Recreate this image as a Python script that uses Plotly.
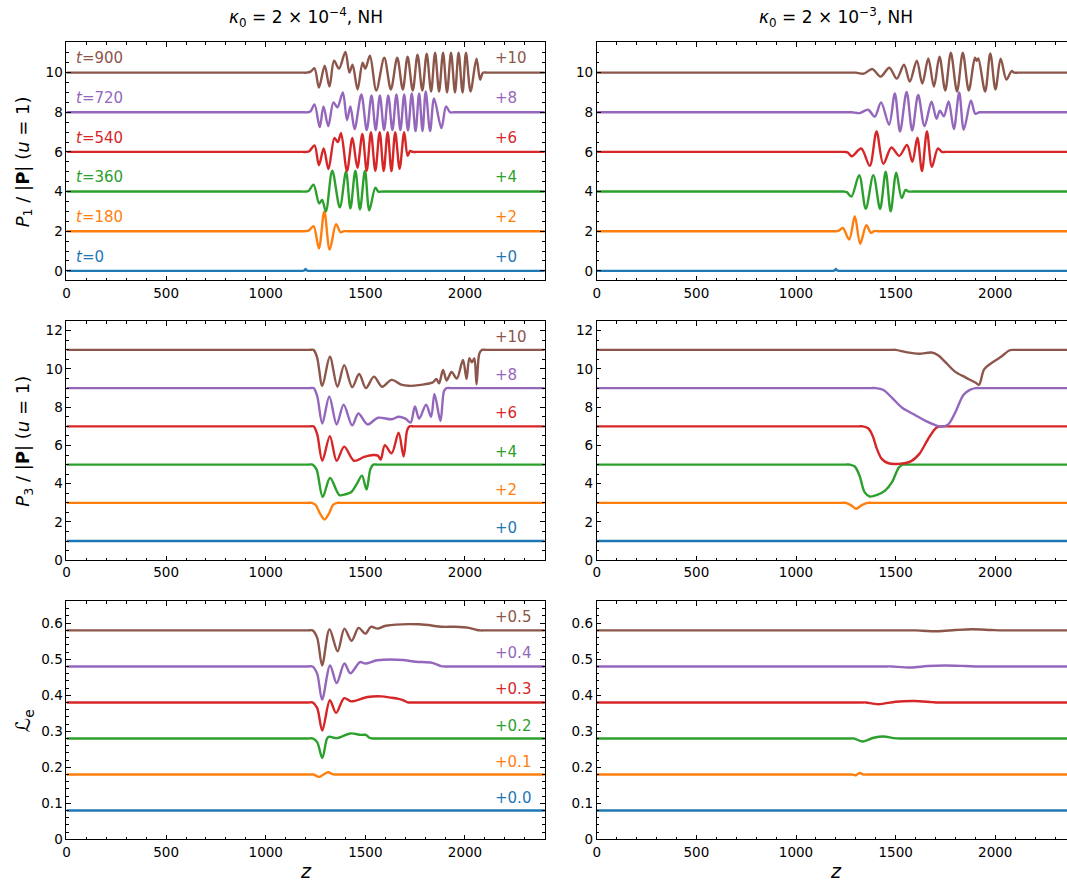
import plotly.graph_objects as go

# ---------------- data (raw values, before vertical offsets) ----------------
TIMES = [0, 180, 360, 540, 720, 900]
COLORS = ['#1f77b4', '#ff7f0e', '#2ca02c', '#d62728', '#9467bd', '#8c564b']
P_OFFSETS = [0, 2, 4, 6, 8, 10]
LE_OFFSETS = [0.0, 0.1, 0.2, 0.3, 0.4, 0.5]
P_OFFSET_LABELS = ['+0', '+2', '+4', '+6', '+8', '+10']
LE_OFFSET_LABELS = ['+0.0', '+0.1', '+0.2', '+0.3', '+0.4', '+0.5']

# P1/|P|, kappa0 = 2e-4  (z, value)
P1L_T0 = [(0, 0), (1150, 0), (1170, 0), (1185, 0), (1195, 0.03), (1200, 0.09), (1205, 0.03), (1215, 0),
          (1235, 0), (1255, 0), (2500, 0)]
P1L_T180 = [(0, 0), (1155, 0), (1175, 0), (1195, 0), (1215, 0.03), (1240, 0.25), (1267, -0.87),
            (1294, 1.0), (1321, -0.93), (1353, 0.35), (1376, -0.06), (1392, 0), (1412, 0), (1432, 0),
            (2500, 0)]
P1L_T360 = [(0, 0), (1160, 0), (1180, 0), (1200, 0), (1215, 0.03), (1240, 0.35), (1268, -0.6),
            (1283, -0.42), (1302, -1.0), (1334, 1.05), (1372, -0.8), (1403, 1.0), (1425, -0.85),
            (1450, 1.05), (1473, -0.9), (1498, 1.05), (1520, -0.95), (1550, 0.2), (1565, 0),
            (1585, 0), (1605, 0), (2500, 0)]
P1L_T540 = [(0, 0), (1165, 0), (1185, 0), (1205, 0), (1220, 0.05), (1245, 0.33), (1267, -0.67),
            (1291, 0.17), (1315, -0.87), (1345, 0.7), (1362, 0.5), (1378, 0.95), (1408, -0.97),
            (1435, 0.7), (1460, -0.8), (1485, 0.9), (1507, -0.95), (1528, 1.0), (1550, -0.95),
            (1572, 1.0), (1592, -0.97), (1612, 1.0), (1631, -0.97), (1650, 1.0), (1672, -0.85),
            (1695, 1.0), (1712, -0.2), (1725, 0.05), (1738, 0), (1758, 0), (1778, 0), (2500, 0)]
P1L_T720 = [(0, 0), (1170, 0), (1190, 0), (1210, 0), (1225, 0.05), (1245, 0.4), (1271, -0.75),
            (1290, 0.3), (1314, -0.7), (1340, 0.5), (1360, 0.25), (1387, 1.0), (1408, -0.4),
            (1425, 0.3), (1446, -0.85), (1480, 0.9), (1507, -0.9), (1531, 0.85), (1552, -0.9),
            (1573, 0.85), (1594, -0.9), (1615, 0.85), (1636, -0.9), (1656, 0.9), (1676, -0.9),
            (1695, 0.9), (1714, -0.92), (1733, 0.95), (1752, -0.95), (1770, 0.95), (1787, -0.95),
            (1803, 1.05), (1825, -0.95), (1845, 0.7), (1882, -0.8), (1905, 0.3), (1925, 0),
            (1945, 0), (1965, 0), (2500, 0)]
P1L_T900 = [(0, 0), (1165, 0), (1185, 0), (1205, 0), (1225, 0.05), (1245, 0.22), (1267, -0.75),
            (1296, 0.35), (1320, -0.7), (1343, 0.6), (1368, 0.2), (1400, 1.05), (1420, 0.0),
            (1436, 0.4), (1461, -0.85), (1486, 0.5), (1500, 0.2), (1523, 0.85), (1555, -0.9),
            (1595, 0.75), (1628, -0.85), (1660, 0.75), (1688, -0.85), (1712, 0.8), (1738, -0.9),
            (1762, 0.9), (1786, -0.9), (1808, 0.95), (1830, -0.95), (1850, 1.0), (1870, -0.95),
            (1890, 1.0), (1910, -1.0), (1930, 1.0), (1950, -1.0), (1968, 1.0), (1988, -1.0),
            (2005, 1.0), (2028, -0.95), (2058, 0.7), (2076, -0.35), (2090, 0), (2110, 0), (2130, 0),
            (2500, 0)]

# P1/|P|, kappa0 = 2e-3
P1R_T0 = [(0, 0), (1150, 0), (1170, 0), (1185, 0), (1195, 0.03), (1200, 0.09), (1205, 0.03), (1215, 0),
          (1235, 0), (1255, 0), (2500, 0)]
P1R_T180 = [(0, 0), (1160, 0), (1180, 0), (1200, 0), (1215, 0.03), (1235, 0.16), (1267, -0.42),
            (1295, 0.75), (1322, -0.63), (1353, 0.3), (1376, -0.08), (1392, 0), (1412, 0), (1432, 0),
            (2500, 0)]
P1R_T360 = [(0, 0), (1200, 0), (1220, 0), (1240, 0), (1255, -0.03), (1278, -0.25), (1317, 0.83),
            (1350, -0.87), (1388, 0.83), (1422, -0.87), (1450, 1.0), (1475, -1.0), (1503, 0.95),
            (1530, -0.33), (1550, 0.08), (1565, 0), (1585, 0), (1605, 0), (2500, 0)]
P1R_T540 = [(0, 0), (1205, 0), (1225, 0), (1245, 0), (1260, -0.03), (1280, -0.22), (1327, 0.17),
            (1370, -0.7), (1404, 1.03), (1438, -0.6), (1479, 0.22), (1518, -0.2), (1557, 0.35),
            (1584, -0.5), (1609, 0.72), (1632, -0.97), (1657, 1.03), (1682, -0.75), (1712, 0.18),
            (1732, 0), (1752, 0), (1772, 0), (2500, 0)]
P1R_T720 = [(0, 0), (1240, 0), (1260, 0), (1280, 0), (1320, -0.04), (1362, 0.13), (1395, -0.22),
            (1427, 0.5), (1467, -0.63), (1496, 0.95), (1522, -0.97), (1555, 1.03), (1583, -0.92),
            (1613, 0.87), (1645, -0.7), (1680, 0.53), (1705, -0.33), (1722, 0.08), (1742, -0.2),
            (1766, 0.55), (1792, -0.85), (1819, 1.0), (1842, -0.88), (1878, 0.58), (1900, -0.08),
            (1920, 0), (1940, 0), (1960, 0), (2500, 0)]
P1R_T900 = [(0, 0), (1260, 0), (1280, 0), (1300, 0), (1340, -0.05), (1383, 0.18), (1425, -0.2),
            (1468, 0.25), (1506, -0.3), (1542, 0.4), (1571, -0.45), (1606, 0.6), (1634, -0.55),
            (1664, 0.72), (1692, -0.7), (1720, 0.8), (1749, -0.9), (1777, 1.0), (1808, -0.95),
            (1837, 1.0), (1867, -0.9), (1898, 0.75), (1907, 0.6), (1915, 0.72), (1949, -0.95),
            (1975, 0.97), (2001, -0.85), (2027, 0.7), (2056, -0.35), (2082, 0.08), (2095, 0),
            (2115, 0), (2135, 0), (2500, 0)]

# P3/|P|, kappa0 = 2e-4
P3L_T0 = [(0, 1), (2500, 1)]
P3L_T180 = [(0, 1), (1190, 1), (1210, 1), (1230, 1), (1250, 0.9), (1272, 0.45), (1295, 0.13),
            (1318, 0.45), (1338, 0.9), (1358, 1), (1378, 1), (1398, 1), (2500, 1)]
P3L_T360 = [(0, 1), (1195, 1), (1215, 1), (1235, 1), (1255, 0.75), (1286, -0.7), (1323, 0.3),
            (1370, -0.6), (1400, -0.55), (1428, -0.45), (1458, 0.0), (1483, 0.42), (1506, -0.3),
            (1525, 0.75), (1540, 1), (1560, 1), (1580, 1), (2500, 1)]
P3L_T540 = [(0, 1), (1200, 1), (1220, 1), (1240, 1), (1258, 0.6), (1284, -0.8), (1322, 0.49),
            (1356, -0.8), (1394, -0.06), (1443, -0.8), (1494, -0.6), (1540, -0.5), (1563, -0.53),
            (1577, -0.74), (1598, 0.02), (1632, -0.41), (1667, 0.67), (1692, -0.58), (1710, 0.8),
            (1722, 1.0), (1742, 1), (1762, 1), (2500, 1)]
P3L_T720 = [(0, 1), (1200, 1), (1220, 1), (1240, 1), (1258, 0.6), (1284, -0.85), (1319, 0.56),
            (1356, -0.9), (1391, 0.13), (1434, -0.95), (1465, -0.33), (1511, -0.9), (1563, -0.55),
            (1632, -0.63), (1667, -0.5), (1701, -0.6), (1727, -0.8), (1749, 0.04), (1770, -0.6),
            (1805, 0.13), (1830, -0.5), (1847, 0.7), (1877, -0.72), (1895, 0.85), (1908, 1.0),
            (1928, 1), (1948, 1), (2500, 1)]
P3L_T900 = [(0, 1), (1200, 1), (1220, 1), (1240, 1), (1258, 0.6), (1284, -0.88), (1322, 0.64),
            (1360, -0.93), (1394, 0.2), (1434, -0.95), (1469, -0.26), (1503, -1.0), (1543, -0.4),
            (1584, -0.93), (1632, -0.57), (1680, -0.82), (1718, -0.88), (1778, -0.83), (1839, -0.7),
            (1856, -0.52), (1870, -0.75), (1890, -0.05), (1908, -0.6), (1933, -0.16), (1959, -0.5),
            (1990, 0.47), (2008, -0.52), (2022, 0.56), (2035, 0.35), (2047, 0.55), (2058, -0.8),
            (2072, 0.8), (2085, 1.0), (2105, 1), (2125, 1), (2500, 1)]

# P3/|P|, kappa0 = 2e-3
P3R_T0 = [(0, 1), (2500, 1)]
P3R_T180 = [(0, 1), (1210, 1), (1230, 1), (1250, 1), (1275, 0.88), (1302, 0.69), (1330, 0.88),
            (1360, 1), (1380, 1), (1400, 1), (2500, 1)]
P3R_T360 = [(0, 1), (1230, 1), (1250, 1), (1270, 1), (1295, 0.9), (1319, 0.42), (1344, -0.44),
            (1370, -0.67), (1404, -0.6), (1447, -0.36), (1481, 0.07), (1516, 0.85), (1535, 1),
            (1555, 1), (1575, 1), (2500, 1)]
P3R_T540 = [(0, 1), (1295, 1), (1315, 1), (1335, 1), (1362, 0.9), (1385, 0.5), (1405, -0.15),
            (1430, -0.7), (1464, -0.93), (1516, -0.96), (1576, -0.83), (1619, -0.44), (1661, 0.3),
            (1704, 0.93), (1730, 1), (1750, 1), (1770, 1), (2500, 1)]
P3R_T720 = [(0, 1), (1360, 1), (1380, 1), (1400, 1), (1439, 0.9), (1481, 0.5), (1533, -0.03),
            (1593, -0.38), (1661, -0.77), (1730, -1.02), (1764, -0.9), (1798, -0.3), (1841, 0.65),
            (1875, 0.92), (1901, 1), (1921, 1), (1941, 1), (2500, 1)]
P3R_T900 = [(0, 1), (1460, 1), (1480, 1), (1500, 1), (1558, 0.87), (1619, 0.8), (1680, 0.86),
            (1713, 0.72), (1756, 0.29), (1798, -0.14), (1850, -0.44), (1900, -0.71), (1918, -0.83),
            (1944, -0.02), (1978, 0.29), (2029, 0.64), (2072, 0.98), (2090, 1), (2110, 1), (2130, 1),
            (2500, 1)]

# L_e, kappa0 = 2e-4
LEL_T0 = [(0, 0.08), (2500, 0.08)]
LEL_T180 = [(0, 0.08), (1200, 0.08), (1220, 0.08), (1240, 0.08), (1267, 0.0734), (1290, 0.08),
            (1313, 0.0863), (1335, 0.081), (1350, 0.08), (1370, 0.08), (1390, 0.08), (2500, 0.08)]
LEL_T360 = [(0, 0.08), (1195, 0.08), (1215, 0.08), (1235, 0.08), (1258, 0.07), (1284, 0.026),
            (1308, 0.08), (1319, 0.085), (1357, 0.081), (1425, 0.094), (1477, 0.09), (1503, 0.09),
            (1520, 0.082), (1537, 0.08), (1557, 0.08), (1577, 0.08), (2500, 0.08)]
LEL_T540 = [(0, 0.08), (1195, 0.08), (1215, 0.08), (1235, 0.08), (1258, 0.065), (1284, 0.002),
            (1322, 0.086), (1353, 0.051), (1394, 0.092), (1429, 0.083), (1511, 0.095), (1580, 0.097),
            (1632, 0.093), (1667, 0.09), (1692, 0.086), (1712, 0.08), (1732, 0.08), (1752, 0.08),
            (2500, 0.08)]
LEL_T720 = [(0, 0.08), (1195, 0.08), (1215, 0.08), (1235, 0.08), (1258, 0.06), (1283, -0.012),
            (1323, 0.083), (1356, 0.034), (1395, 0.088), (1425, 0.061), (1473, 0.092), (1500, 0.088),
            (1561, 0.097), (1686, 0.098), (1753, 0.093), (1836, 0.09), (1880, 0.081), (1895, 0.08),
            (1915, 0.08), (1935, 0.08), (2500, 0.08)]
LEL_T900 = [(0, 0.08), (1195, 0.08), (1215, 0.08), (1235, 0.08), (1258, 0.06), (1283, -0.017),
            (1320, 0.083), (1361, 0.022), (1395, 0.085), (1431, 0.051), (1466, 0.087), (1500, 0.071),
            (1528, 0.09), (1561, 0.085), (1603, 0.093), (1770, 0.097), (1887, 0.09), (1950, 0.09),
            (2020, 0.087), (2060, 0.081), (2078, 0.08), (2098, 0.08), (2118, 0.08), (2500, 0.08)]

# L_e, kappa0 = 2e-3
LER_T0 = [(0, 0.08), (2500, 0.08)]
LER_T180 = [(0, 0.08), (1240, 0.08), (1260, 0.08), (1280, 0.08), (1300, 0.078), (1319, 0.084),
            (1340, 0.08), (1360, 0.08), (1380, 0.08), (2500, 0.08)]
LER_T360 = [(0, 0.08), (1250, 0.08), (1270, 0.08), (1290, 0.08), (1336, 0.0716), (1390, 0.082),
            (1439, 0.0854), (1490, 0.081), (1524, 0.08), (1544, 0.08), (1564, 0.08), (2500, 0.08)]
LER_T540 = [(0, 0.08), (1310, 0.08), (1330, 0.08), (1350, 0.08), (1413, 0.075), (1500, 0.082),
            (1593, 0.084), (1680, 0.081), (1713, 0.08), (1733, 0.08), (1753, 0.08), (2500, 0.08)]
LER_T720 = [(0, 0.08), (1440, 0.08), (1460, 0.08), (1480, 0.08), (1576, 0.077), (1660, 0.081),
            (1747, 0.0826), (1850, 0.081), (1901, 0.08), (1921, 0.08), (1941, 0.08), (2500, 0.08)]
LER_T900 = [(0, 0.08), (1560, 0.08), (1580, 0.08), (1600, 0.08), (1713, 0.0778), (1800, 0.081),
            (1884, 0.083), (1980, 0.081), (2038, 0.08), (2058, 0.08), (2078, 0.08), (2500, 0.08)]

PANELS = [
    # (row, col, series list, offsets, offset labels)
    (0, 0, [P1L_T0, P1L_T180, P1L_T360, P1L_T540, P1L_T720, P1L_T900], P_OFFSETS, P_OFFSET_LABELS),
    (0, 1, [P1R_T0, P1R_T180, P1R_T360, P1R_T540, P1R_T720, P1R_T900], P_OFFSETS, None),
    (1, 0, [P3L_T0, P3L_T180, P3L_T360, P3L_T540, P3L_T720, P3L_T900], P_OFFSETS, P_OFFSET_LABELS),
    (1, 1, [P3R_T0, P3R_T180, P3R_T360, P3R_T540, P3R_T720, P3R_T900], P_OFFSETS, None),
    (2, 0, [LEL_T0, LEL_T180, LEL_T360, LEL_T540, LEL_T720, LEL_T900], LE_OFFSETS, LE_OFFSET_LABELS),
    (2, 1, [LER_T0, LER_T180, LER_T360, LER_T540, LER_T720, LER_T900], LE_OFFSETS, None),
]

# ---------------- layout geometry ----------------
W, H = 1067, 886
X_DOM = [[62.7 / W, 542.7 / W], [595 / W, 1.0]]
X_RNG = [[0, 2400], [0, 2360]]
Y_DOM = [[1 - 283 / H, 1 - 42.7 / H], [1 - 565.3 / H, 1 - 324.3 / H], [1 - 847 / H, 1 - 606.7 / H]]
Y_RNG = [[-0.485, 11.53], [0, 12.49], [0, 0.661]]
Y_DTICK = [2, 2, 0.1]
Y_MINOR = [0.5, 0.5, 0.02]
LABEL_DY = [0.72, 1.68, 0.116]

FONT = "DejaVu Sans"
fig = go.Figure()
annotations = []

for (r, c, series, offsets, olabels) in PANELS:
    k = r * 2 + c + 1
    xa = 'x' if k == 1 else f'x{k}'
    ya = 'y' if k == 1 else f'y{k}'
    for i, pts in enumerate(series):
        zs = [p[0] for p in pts]
        vs = [p[1] + offsets[i] for p in pts]
        fig.add_trace(go.Scatter(x=zs, y=vs, mode='lines', xaxis=xa, yaxis=ya,
                                 line=dict(color=COLORS[i], width=2.4, shape='spline', smoothing=0.9),
                                 showlegend=False, hoverinfo='skip'))
    if olabels is not None:
        for i in range(6):
            yv = offsets[i] + LABEL_DY[r]
            annotations.append(dict(x=2140, y=yv, xref=xa, yref=ya, text=olabels[i], showarrow=False,
                                    xanchor='left', yanchor='middle',
                                    font=dict(family=FONT, size=15, color=COLORS[i])))
            if r == 0:
                annotations.append(dict(x=38, y=yv, xref=xa, yref=ya, text=f'<i>t</i>={TIMES[i]}',
                                        showarrow=False, xanchor='left', yanchor='middle',
                                        font=dict(family=FONT, size=15, color=COLORS[i])))
    axis_common = dict(showgrid=False, zeroline=False, showline=True, linecolor='black', linewidth=1,
                       ticks='inside', ticklen=4.5, tickwidth=1, tickcolor='black',
                       tickfont=dict(family=FONT, size=13.5, color='black'))
    xkey = 'xaxis' if k == 1 else f'xaxis{k}'
    ykey = 'yaxis' if k == 1 else f'yaxis{k}'
    fig.update_layout(**{
        xkey: dict(domain=X_DOM[c], range=X_RNG[c], anchor=ya, dtick=500, tick0=0, mirror='ticks',
                   minor=dict(ticks='inside', ticklen=2.5, tickwidth=0.8, tickcolor='black', dtick=100,
                              tick0=0, showgrid=False),
                   **axis_common),
        ykey: dict(domain=Y_DOM[r], range=Y_RNG[r], anchor=xa, dtick=Y_DTICK[r], tick0=0,
                   mirror=('ticks' if c == 0 else False),
                   minor=dict(ticks='inside', ticklen=2.5, tickwidth=0.8, tickcolor='black',
                              dtick=Y_MINOR[r], tick0=0, showgrid=False),
                   **axis_common),
    })

# titles
TITLES = ['<i>κ</i><sub>0</sub> = 2 × 10<sup>−4</sup>, NH', '<i>κ</i><sub>0</sub> = 2 × 10<sup>−3</sup>, NH']
for c in range(2):
    cx = X_DOM[c][0] + 240 / W
    annotations.append(dict(x=cx, y=1 - 18 / H, xref='paper', yref='paper', text=TITLES[c],
                            showarrow=False, xanchor='center', yanchor='middle',
                            font=dict(family=FONT, size=17, color='black')))
    annotations.append(dict(x=cx, y=1 - 879 / H, xref='paper', yref='paper', text='<i>z</i>',
                            showarrow=False, xanchor='center', yanchor='middle',
                            font=dict(family=FONT, size=19, color='black')))

YLABELS = ['<i>P</i><sub>1</sub> / |<b>P</b>| (<i>u</i> = 1)',
           '<i>P</i><sub>3</sub> / |<b>P</b>| (<i>u</i> = 1)',
           'ℒ<sub>e</sub>']
for r in range(3):
    cy = (Y_DOM[r][0] + Y_DOM[r][1]) / 2
    annotations.append(dict(x=20 / W, y=cy, xref='paper', yref='paper', text=YLABELS[r],
                            showarrow=False, xanchor='center', yanchor='middle', textangle=-90,
                            font=dict(family=FONT, size=18 if r < 2 else 20, color='black')))

fig.update_layout(width=W, height=H, margin=dict(l=0, r=0, t=0, b=0),
                  paper_bgcolor='white', plot_bgcolor='white', annotations=annotations)

fig.write_html("out.html")
